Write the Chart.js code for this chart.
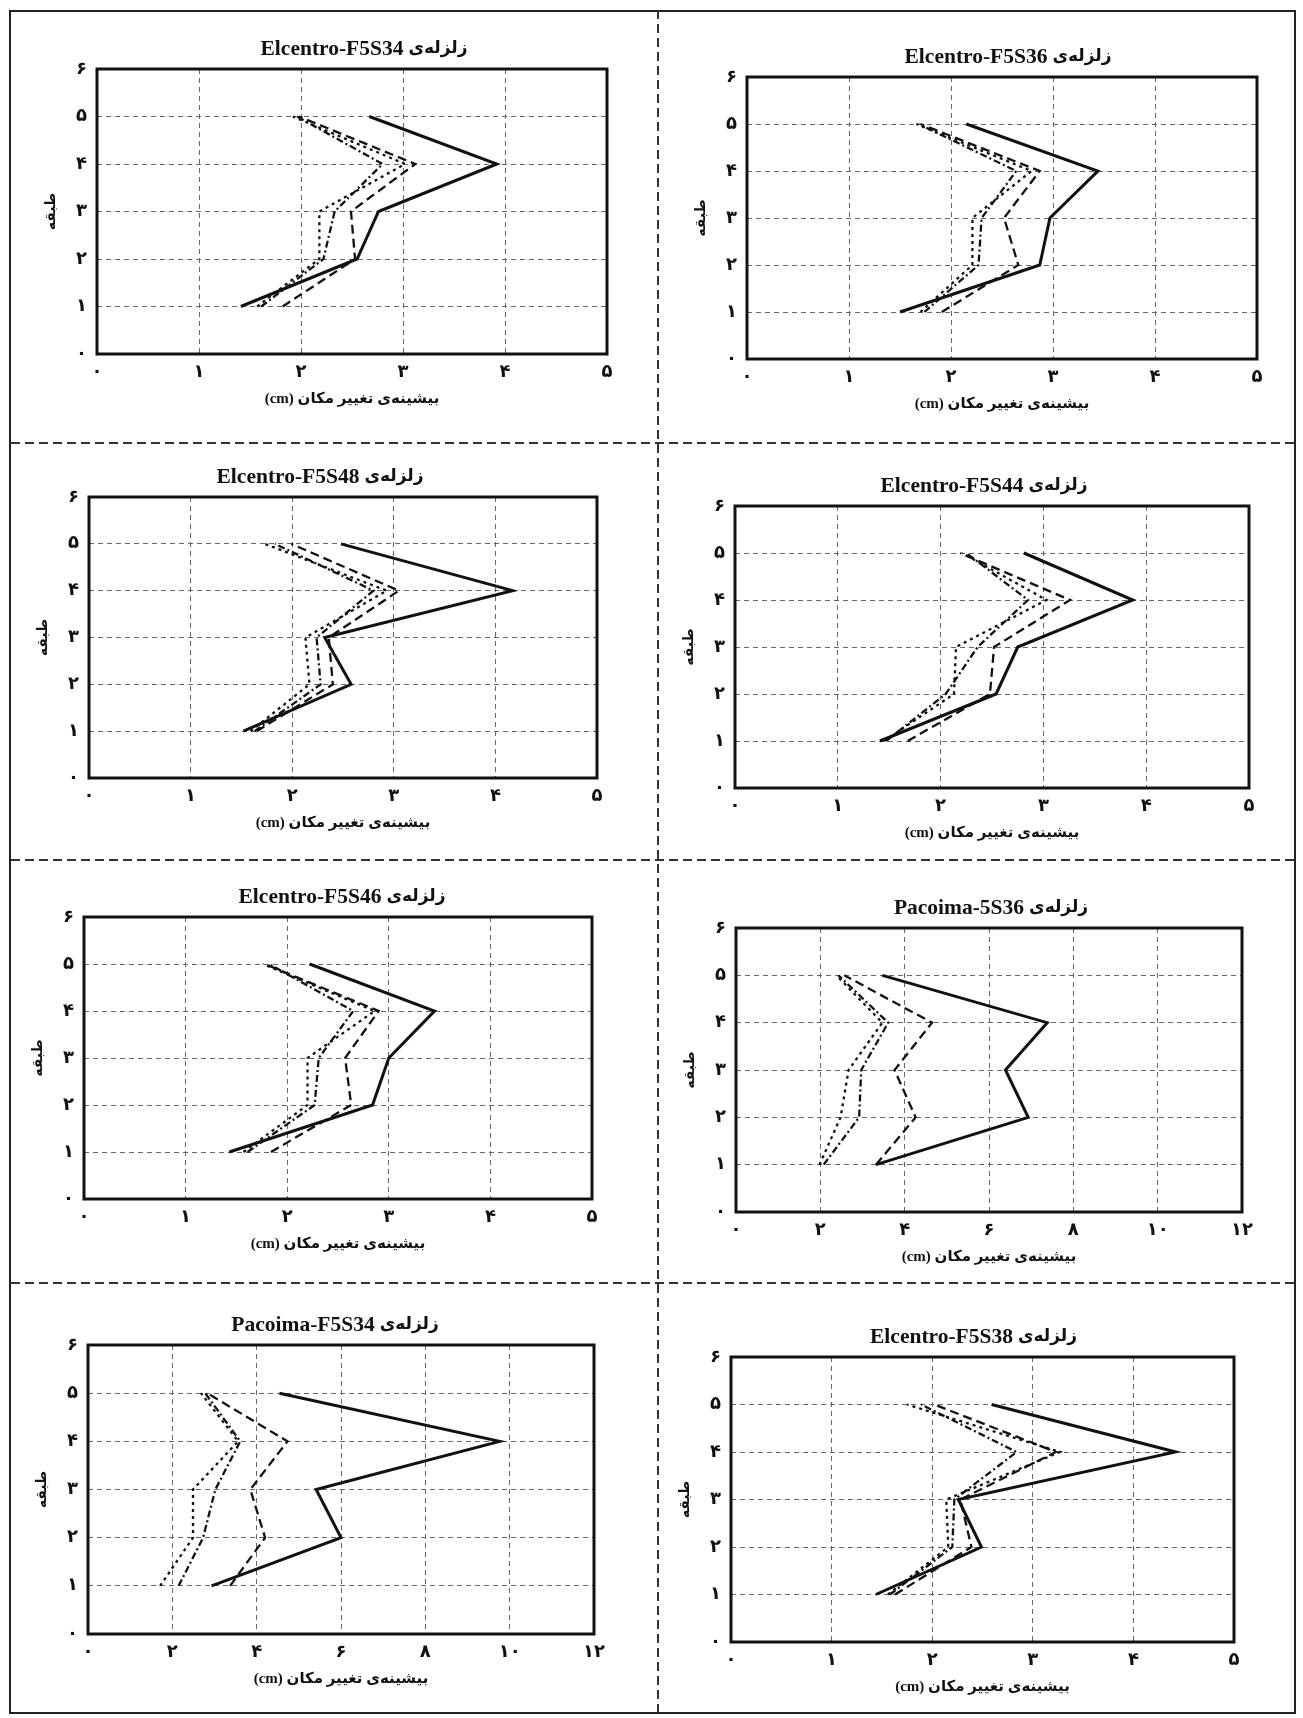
<!doctype html>
<html lang="fa">
<head>
<meta charset="utf-8">
<title>Peak floor displacement</title>
<style>
  html, body { margin: 0; padding: 0; background: #fff; }
  #page { position: relative; width: 1303px; height: 1718px; overflow: hidden; background: #fff; }
  canvas { position: absolute; }
  .frame { position: absolute; left: 9px; top: 10px; width: 1283px; height: 1700px; border: 2px solid #222; }
  .vdiv { position: absolute; width: 2px;
    background: repeating-linear-gradient(to bottom, #333 0 9px, transparent 9px 14px); }
  .hdiv { position: absolute; height: 2px;
    background: repeating-linear-gradient(to right, #333 0 9px, transparent 9px 14px); }
</style>
</head>
<body>
<div id="page">
  <div class="frame"></div>
  <div class="vdiv" style="left:657px;top:10px;height:1702px"></div>
  <div class="hdiv" style="left:11px;top:442px;width:1283px"></div>
  <div class="hdiv" style="left:11px;top:859px;width:1283px"></div>
  <div class="hdiv" style="left:11px;top:1282px;width:1283px"></div>
</div>
<script src="https://cdn.jsdelivr.net/npm/chart.js@4"></script>
<script>
// floors (y values) shared by all panels
const floors = [1, 2, 3, 4, 5];

// peak displacement (cm) per floor 1..5 — four curves per panel
const s34Solid   = [1.41, 2.55, 2.76, 3.92, 2.67];
const s34Dashed  = [1.82, 2.53, 2.49, 3.12, 1.98];
const s34Dotted  = [1.57, 2.18, 2.18, 3.02, 1.92];
const s34DashDot = [1.61, 2.22, 2.33, 2.80, 1.96];

const s36Solid   = [1.50, 2.87, 2.97, 3.44, 2.15];
const s36Dashed  = [1.91, 2.66, 2.52, 2.87, 1.70];
const s36Dotted  = [1.70, 2.21, 2.21, 2.79, 1.66];
const s36DashDot = [1.74, 2.27, 2.30, 2.64, 1.68];

const s48Solid   = [1.52, 2.58, 2.32, 4.17, 2.48];
const s48Dashed  = [1.65, 2.40, 2.36, 3.05, 1.99];
const s48Dotted  = [1.59, 2.17, 2.13, 2.93, 1.73];
const s48DashDot = [1.63, 2.28, 2.24, 2.80, 1.83];

const s44Solid   = [1.41, 2.54, 2.75, 3.87, 2.81];
const s44Dashed  = [1.68, 2.48, 2.52, 3.26, 2.19];
const s44Dotted  = [1.45, 2.13, 2.15, 3.03, 2.21];
const s44DashDot = [1.47, 2.05, 2.36, 2.85, 2.25];

const s46Solid   = [1.43, 2.84, 3.00, 3.45, 2.22];
const s46Dashed  = [1.84, 2.63, 2.57, 2.90, 1.78];
const s46Dotted  = [1.57, 2.20, 2.20, 2.86, 1.76];
const s46DashDot = [1.61, 2.27, 2.31, 2.65, 1.82];

const pac36Solid   = [3.32, 6.93, 6.39, 7.38, 3.47];
const pac36Dashed  = [3.32, 4.26, 3.76, 4.65, 2.57];
const pac36Dotted  = [1.98, 2.48, 2.67, 3.47, 2.38];
const pac36DashDot = [2.08, 2.92, 2.97, 3.61, 2.43];

const pac34Solid   = [2.93, 6.00, 5.41, 9.76, 4.54];
const pac34Dashed  = [3.37, 4.20, 3.85, 4.73, 2.83];
const pac34Dotted  = [1.71, 2.49, 2.49, 3.56, 2.68];
const pac34DashDot = [2.15, 2.73, 3.02, 3.61, 2.78];

const s38Solid   = [1.44, 2.49, 2.26, 4.42, 2.59];
const s38Dashed  = [1.63, 2.39, 2.28, 3.23, 2.02];
const s38Dotted  = [1.56, 2.16, 2.14, 3.27, 1.75];
const s38DashDot = [1.58, 2.20, 2.22, 2.84, 1.89];

// axis ranges
const elcentroX = {max: 5, step: 1};
const pacoimaX  = {max: 12, step: 2};
const floorAxis = {max: 6, step: 1};

const quake = 'زلزله\u200Cی';
const xLabel = '(cm) بیشینه\u200Cی تغییر مکان';
const yLabel = 'طبقه';

const panels = [
  {name: 'Elcentro-F5S34', x: elcentroX, series: [s34Solid, s34Dashed, s34Dotted, s34DashDot], box: [97, 69, 607, 354], shift: 12},
  {name: 'Elcentro-F5S36', x: elcentroX, series: [s36Solid, s36Dashed, s36Dotted, s36DashDot], box: [747, 77, 1257, 359], shift: 6},
  {name: 'Elcentro-F5S48', x: elcentroX, series: [s48Solid, s48Dashed, s48Dotted, s48DashDot], box: [89, 497, 597, 778], shift: -23},
  {name: 'Elcentro-F5S44', x: elcentroX, series: [s44Solid, s44Dashed, s44Dotted, s44DashDot], box: [735, 506, 1249, 788], shift: -8},
  {name: 'Elcentro-F5S46', x: elcentroX, series: [s46Solid, s46Dashed, s46Dotted, s46DashDot], box: [84, 917, 592, 1199], shift: 4},
  {name: 'Pacoima-5S36', x: pacoimaX, series: [pac36Solid, pac36Dashed, pac36Dotted, pac36DashDot], box: [736, 928, 1242, 1212], shift: 2},
  {name: 'Pacoima-F5S34', x: pacoimaX, series: [pac34Solid, pac34Dashed, pac34Dotted, pac34DashDot], box: [88, 1345, 594, 1634], shift: -6},
  {name: 'Elcentro-F5S38', x: elcentroX, series: [s38Solid, s38Dashed, s38Dotted, s38DashDot], box: [731, 1357, 1234, 1642], shift: -9}
];

const lineStyles = [
  {width: 3, dash: []},
  {width: 2.3, dash: [9, 5]},
  {width: 2.3, dash: [3, 4]},
  {width: 2.3, dash: [7, 3, 2, 3]}
];

const PERSIAN = '۰۱۲۳۴۵۶۷۸۹';
const fa = v => String(v).replace(/\d/g, d => PERSIAN[d]);
const FONT = "'Liberation Serif', 'DejaVu Sans', serif";

const framePlugin = {
  id: 'frame',
  afterDraw(chart, args, opts) {
    const {ctx, chartArea: a} = chart;
    ctx.save();
    ctx.lineWidth = 3;
    ctx.strokeStyle = '#111';
    ctx.strokeRect(a.left, a.top, a.right - a.left, a.bottom - a.top);

    // title: Latin name in serif, Persian word after it
    const latin = 'bold 21.5px ' + FONT;
    const farsi = "bold 17px 'DejaVu Sans', sans-serif";
    ctx.fillStyle = '#111';
    ctx.textBaseline = 'middle';
    ctx.textAlign = 'left';
    ctx.font = latin;
    const wL = ctx.measureText(opts.name).width;
    ctx.font = farsi;
    const wF = ctx.measureText(quake).width;
    const gap = 5;
    const x0 = (a.left + a.right) / 2 + opts.shift - (wL + gap + wF) / 2;
    const y = a.top - 20;
    ctx.font = latin;
    ctx.fillText(opts.name, x0, y);
    ctx.font = farsi;
    ctx.fillText(quake, x0 + wL + gap, y);
    ctx.restore();
  }
};

const LEFT = 80, TOP = 45, BOTTOM = 62, RIGHT = 20;
const page = document.getElementById('page');

panels.forEach(p => {
  const [l, t, r, b] = p.box;
  const canvas = document.createElement('canvas');
  canvas.width = LEFT + (r - l) + RIGHT;
  canvas.height = TOP + (b - t) + BOTTOM;
  canvas.style.left = (l - LEFT) + 'px';
  canvas.style.top = (t - TOP) + 'px';
  page.appendChild(canvas);

  new Chart(canvas.getContext('2d'), {
    type: 'scatter',
    data: {
      datasets: p.series.map((vals, i) => ({
        data: vals.map((v, k) => ({x: v, y: floors[k]})),
        showLine: true,
        borderColor: '#111',
        borderWidth: lineStyles[i].width,
        borderDash: lineStyles[i].dash,
        pointRadius: 0,
        tension: 0
      }))
    },
    options: {
      responsive: false,
      animation: false,
      devicePixelRatio: 1,
      layout: {padding: {left: 0, top: TOP, bottom: 0, right: RIGHT}},
      plugins: {
        legend: {display: false},
        tooltip: {enabled: false},
        title: {display: false},
        frame: {name: p.name, shift: p.shift}
      },
      scales: {
        x: {
          type: 'linear',
          min: 0, max: p.x.max,
          afterFit: s => { s.height = BOTTOM; },
          ticks: {stepSize: p.x.step, color: '#111', padding: 8,
            font: {family: FONT, size: 18, weight: 'bold'}, callback: v => fa(v)},
          grid: {color: '#666', lineWidth: 1, drawTicks: false},
          border: {display: false, dash: [5, 4]},
          title: {display: true, text: xLabel, color: '#111',
            font: {family: FONT, size: 15, weight: 'bold'}, padding: {top: 0, bottom: 8}}
        },
        y: {
          type: 'linear',
          min: 0, max: floorAxis.max,
          afterFit: s => { s.width = LEFT; },
          ticks: {stepSize: floorAxis.step, color: '#111', padding: 10,
            font: {family: FONT, size: 18, weight: 'bold'}, callback: v => fa(v)},
          grid: {color: '#666', lineWidth: 1, drawTicks: false},
          border: {display: false, dash: [5, 4]},
          title: {display: true, text: yLabel, color: '#111',
            font: {family: FONT, size: 14, weight: 'bold'}, padding: {top: 26, bottom: 0}}
        }
      }
    },
    plugins: [framePlugin]
  });
});
</script>
</body>
</html>
